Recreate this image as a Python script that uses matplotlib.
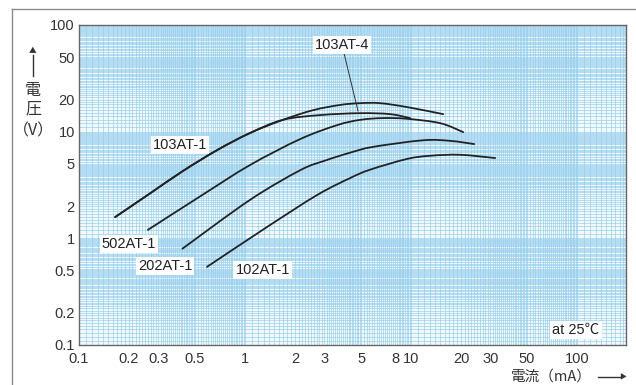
import numpy as np
import matplotlib
matplotlib.use('Agg')
import matplotlib.pyplot as plt
from matplotlib.ticker import FixedLocator, NullFormatter
from matplotlib.lines import Line2D
from matplotlib.path import Path
from matplotlib.patches import PathPatch

plt.rcParams['font.family'] = ['Liberation Sans', 'Noto Sans CJK JP', 'DejaVu Sans']
JP = ['Noto Sans CJK JP', 'DejaVu Sans']

# current (mA) / voltage (V)
i_103_4 = [0.165, 0.27, 0.42, 0.68, 1.07, 1.69, 2.57, 3.74, 4.93, 6.51, 9.46, 15.6]
v_103_4 = [1.58, 2.66, 4.25, 6.72, 9.7, 12.9, 15.9, 17.8, 18.5, 18.5, 17.0, 14.6]

i_103_1 = [0.165, 0.27, 0.42, 0.68, 1.07, 1.69, 2.83, 4.93, 7.47, 9.86]
v_103_1 = [1.58, 2.66, 4.25, 6.72, 9.7, 12.9, 14.3, 14.9, 14.6, 13.4]

i_502_1 = [0.26, 0.54, 1.07, 2.15, 3.58, 4.93, 6.78, 9.46, 15.0, 20.6]
v_502_1 = [1.20, 2.49, 4.86, 8.52, 11.5, 12.9, 13.4, 13.2, 12.0, 9.9]

i_202_1 = [0.42, 1.07, 2.15, 3.03, 4.29, 5.90, 11.8, 17.2, 24.0]
v_202_1 = [0.80, 2.29, 4.35, 5.35, 6.35, 7.2, 8.3, 8.2, 7.65]

i_102_1 = [0.59, 1.36, 2.72, 4.29, 5.66, 9.46, 13.0, 19.7, 32.1]
v_102_1 = [0.54, 1.28, 2.55, 3.67, 4.40, 5.55, 5.94, 6.07, 5.66]

x_ticks = [0.1, 0.2, 0.3, 0.5, 1, 2, 3, 5, 8, 10, 20, 30, 50, 100]
x_labels = ['0.1', '0.2', '0.3', '0.5', '1', '2', '3', '5', '8', '10', '20', '30', '50', '100']
y_ticks = [0.1, 0.2, 0.5, 1, 2, 5, 10, 20, 50, 100]
y_labels = ['0.1', '0.2', '0.5', '1', '2', '5', '10', '20', '50', '100']


def paper_lines(lo, hi):
    # graph-paper rulings: coarse steps after each decade, finer near the top
    out = []
    d = lo
    while d < hi:
        out += list(np.arange(1.0, 2.0, 0.1) * d)
        out += list(np.arange(2.0, 5.0, 0.1) * d)
        out += list(np.arange(5.0, 10.0, 0.2) * d)
        d *= 10
    return [v for v in out if lo <= v <= hi]


def smooth_path(xs, ys):
    # Catmull-Rom through the read points, as cubic Bezier segments in log space
    p = np.log10(np.column_stack([xs, ys]))
    q = np.vstack([p[0], p, p[-1]])
    verts = [p[0]]
    codes = [Path.MOVETO]
    for k in range(1, len(q) - 2):
        c1 = q[k] + (q[k + 1] - q[k - 1]) / 6
        c2 = q[k + 1] - (q[k + 2] - q[k]) / 6
        verts += [c1, c2, q[k + 1]]
        codes += [Path.CURVE4] * 3
    return Path(10 ** np.array(verts), codes)


fig = plt.figure(figsize=(6.36, 3.85), dpi=100)
ax = fig.add_axes([0.1242, 0.1039, 0.8601, 0.8312])
ax.set_xscale('log')
ax.set_yscale('log')
ax.set_xlim(0.1, 197)
ax.set_ylim(0.1, 100)
ax.set_facecolor('#f2f9fd')

ax.xaxis.set_minor_locator(FixedLocator(paper_lines(0.1, 200)))
ax.yaxis.set_minor_locator(FixedLocator(paper_lines(0.1, 100)))
ax.xaxis.set_minor_formatter(NullFormatter())
ax.yaxis.set_minor_formatter(NullFormatter())
ax.grid(which='both', color='#9ad0ee', lw=0.5)
ax.set_axisbelow(True)

ax.set_xticks(x_ticks)
ax.set_xticklabels(x_labels)
ax.set_yticks(y_ticks)
ax.set_yticklabels(y_labels)
ax.tick_params(which='both', length=0, labelsize=10.5, colors='#333333')
ax.tick_params(axis='x', pad=5)
ax.tick_params(axis='y', pad=3)
for s in ax.spines.values():
    s.set_color('#666666')
    s.set_linewidth(1)

for xs, ys in [(i_103_4, v_103_4), (i_103_1, v_103_1), (i_502_1, v_502_1),
               (i_202_1, v_202_1), (i_102_1, v_102_1)]:
    ax.add_patch(PathPatch(smooth_path(xs, ys), fill=False, ec='#222222', lw=1.3,
                           capstyle='round', joinstyle='round', zorder=3))

box = dict(boxstyle='square,pad=0.15', fc='white', ec='none')
ax.annotate('103AT-4', xy=(4.79, 15.6), xytext=(3.84, 64.8), ha='center', va='center',
            fontsize=10.5, color='#222222', bbox=box, zorder=4,
            arrowprops=dict(arrowstyle='-', color='#333333', lw=0.7, shrinkA=0, shrinkB=0))
ax.text(0.406, 7.49, '103AT-1', ha='center', va='center', fontsize=10.5, color='#222222', bbox=box)
ax.text(0.2, 0.885, '502AT-1', ha='center', va='center', fontsize=10.5, color='#222222', bbox=box)
ax.text(0.33, 0.55, '202AT-1', ha='center', va='center', fontsize=10.5, color='#222222', bbox=box)
ax.text(1.28, 0.505, '102AT-1', ha='center', va='center', fontsize=10.5, color='#222222', bbox=box)
ax.text(98.6, 0.138, 'at 25℃', ha='center', va='center', fontsize=10.5, color='#222222', bbox=box)

# y axis title, stacked vertically with an up arrow
W, H = 636.0, 385.0
fig.add_artist(Line2D([33 / W, 33 / W], [1 - 76 / H, 1 - 55 / H], color='#333333', lw=1))
fig.text(33 / W, 1 - 51 / H, '▲', ha='center', va='center', fontsize=5.5, color='#333333', family=JP)
fig.text(33 / W, 1 - 90 / H, '電', ha='center', va='center', fontsize=11.5, color='#333333', family=JP)
fig.text(33 / W, 1 - 109 / H, '圧', ha='center', va='center', fontsize=11.5, color='#333333', family=JP)
fig.text(33 / W, 1 - 131 / H, '（V）', ha='center', va='center', fontsize=11.5, color='#333333', family=JP)

# x axis title along the bottom edge
fig.text(551 / W, 1 / H, '電流（mA）', ha='center', va='bottom', fontsize=10.5, color='#333333', family=JP)
fig.add_artist(Line2D([598 / W, 620 / W], [1 - 377 / H, 1 - 377 / H], color='#333333', lw=1))
fig.text(623 / W, 1 - 377 / H, '▶', ha='center', va='center', fontsize=5, color='#333333', family=JP)

# outer frame
fig.add_artist(Line2D([12 / W, 1.0], [1 - 9 / H, 1 - 9 / H], color='#8a8a8a', lw=1))
fig.add_artist(Line2D([12 / W, 12 / W], [0.0, 1 - 9 / H], color='#8a8a8a', lw=1))

fig.savefig('out.png', dpi=100)
